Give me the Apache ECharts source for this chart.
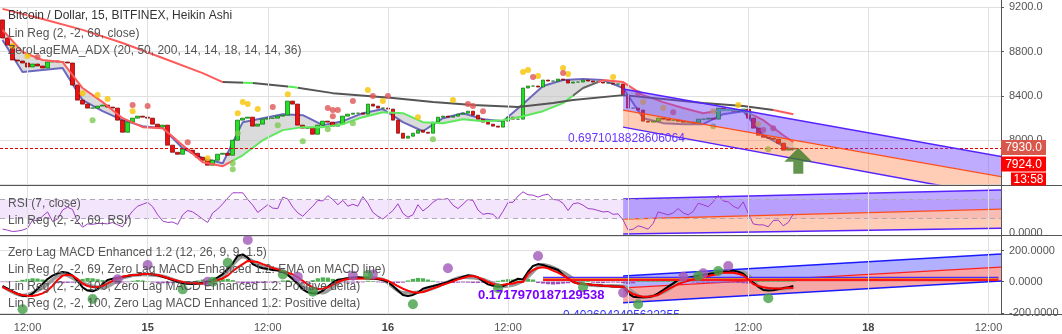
<!DOCTYPE html>
<html><head><meta charset="utf-8">
<script src="https://cdn.jsdelivr.net/npm/echarts@6/dist/echarts.min.js"></script>
<style>html,body{margin:0;padding:0;background:#fff}#c{width:1062px;height:334px}</style>
</head><body><div id="c"></div><script>
// ---------- DATA ----------
const N_CATS = 200;               // 30-minute slots, slot 0 = 14th 09:30
const tickCats = [5, 29, 53, 77, 101, 125, 149, 173, 197];
const tickLabels = ['12:00', '15', '12:00', '16', '12:00', '17', '12:00', '18', '12:00'];
const boldTicks = ['15', '16', '17', '18'];

const firstOpen = 9086;
const closes = [8923,8860,8724,8715,8697,8661,8688,8670,8652,8706,
8715,8706,8706,8697,8498,8362,8326,8290,8290,8308,
8317,8299,8290,8181,8072,8163,8199,8217,8208,8199,
8145,8118,8136,7955,7891,7873,7919,7910,7882,7846,
7819,7774,7819,7873,7882,7864,8000,8181,8199,8208,
8127,8145,8190,8199,8199,8217,8226,8353,8326,8136,
8109,8109,8054,8136,8172,8163,8127,8145,8217,8235,
8244,8244,8235,8326,8308,8290,8290,8281,8181,8063,
8018,8036,8063,8090,8072,8063,8163,8208,8217,8208,
8217,8235,8244,8262,8226,8190,8163,8145,8127,8118,
8172,8208,8190,8190,8471,8489,8489,8480,8543,8534,
8534,8552,8543,8516,8525,8525,8543,8534,8525,8525,
8516,8516,8507,8507,8407,8290,8290,8272,8172,8163,
8172,8199,8190,8181,8181,8172,8163,8163,8154,8190,
8190,8199,8190,8290,8281,8272,8262,8262,8281,8199,
8109,8045,8027,8018,8009,7973,7910,7919,7928];

// ZeroLag EMA lines sampled on shared slots
const emaCats = [0,4,8,12,16,20,24,28,32,36,40,44,48,52,56,60,64,68,72,76,80,84,88,92,96,100,104,108,112,116,120,124,128,132,136,140,144,148,152,156,158];
const emaUpper = [8996,8796,8724,8706,8471,8344,8199,8118,8109,7955,7801,7765,7864,8000,8091,8118,8118,8145,8208,8253,8244,8163,8154,8190,8172,8181,8217,8262,8335,8471,8543,8525,8407,8344,8290,8244,8272,8272,8181,8045,7982];
const emaFast = [8905,8615,8634,8652,8362,8262,8181,8127,8109,7928,7837,7792,8163,8199,8235,8226,8136,8172,8244,8281,8163,8081,8199,8244,8190,8172,8326,8489,8543,8552,8543,8471,8199,8154,8145,8145,8235,8262,8045,7946,7910];
const ema200Cats = [0,8,16,24,32,40,44,50,58,66,78,86,94,103,110,114,124,132,140,148,154,158];
const ema200 = [9186,9095,8996,8878,8742,8606,8525,8516,8480,8425,8380,8344,8317,8299,8335,8362,8407,8371,8335,8308,8272,8235];

const dotsYellow = [[2,8851],[5,8760],[16,8425],[19,8407],[21,8371],[26,8262],[41,7837],[47,8244],[48,8344],[49,8326],[51,8281],[57,8416],[73,8453],[76,8353],[83,8208],[90,8362],[104,8615],[105,8634],[107,8579],[112,8652],[113,8597],[122,8570],[128,8344],[132,8290],[142,8262],[147,8317],[151,8145]];
const dotsRed = [[7,8751],[26,8317],[29,8308],[37,7982],[54,8299],[65,8290],[66,8272],[67,8272],[66,8217],[70,8353],[74,8398],[77,8398],[93,8326],[94,8308],[96,8262],[106,8570],[112,8606],[127,8425],[134,8253],[152,8091],[154,8109]];
const dotsGreen = [[18,8181],[46,7792],[46,7738],[47,8063],[55,8136],[60,7991],[65,8100],[70,8154],[86,8009],[142,8127],[153,7919]];

const lastPrice = 7930;
const arrowPoint = [[159, 7814]];

// Linear regression channels: [start slot, end slot]
const chanCats = [124, 200];
const priceChanUpper = [8462, 7849];
const priceChanMid = [8272, 7668];
const priceChanLower = [8118, 7486];
const rsiChanUpper = [71, 90];
const rsiChanMid = [29, 50];
const rsiChanLower = [-2, 10];
const macdChanUpper = [37, 178];
const macdChanMid = [-40, 94];
const macdChanLower = [-135, 6];

const rsi = [8,6,3,4,6,10,27,26,35,44,24,29,48,54,49,24,12,19,18,20,
20,19,22,17,13,32,46,56,60,64,55,38,25,22,23,18,38,47,44,37,
29,22,42,50,61,73,84,84,84,70,58,43,51,59,52,51,75,71,54,42,
35,46,56,68,67,78,70,59,68,56,60,56,76,62,43,35,29,38,47,61,
41,33,38,59,46,54,64,71,70,72,58,51,60,70,68,48,39,41,39,29,
45,64,64,77,86,80,79,75,79,81,70,69,62,47,61,63,58,51,50,47,
44,45,39,40,27,6,8,15,12,8,20,44,41,38,42,51,42,38,45,62,
59,55,65,79,67,65,56,51,65,41,19,17,17,13,26,27,15,22,40];
const rsiUpperLevel = 70, rsiLowerLevel = 30;

const macdLine = [-28,-45,-62,-77,-90,-94,-77,-45,-15,17,39,54,62,58,39,6,-36,-57,-62,-49,
-15,11,19,26,32,37,43,45,49,49,47,41,32,22,11,0,-11,-13,-15,-11,
-6,2,11,28,49,83,118,167,175,154,113,96,86,81,75,71,62,43,17,-15,
-49,-68,-75,-75,-57,-32,-6,13,17,22,26,28,24,22,19,17,11,-2,-28,-57,
-85,-92,-85,-70,-45,-36,-28,-19,-11,-2,11,19,32,41,39,28,4,-17,-26,-32,
-28,-13,4,19,15,64,101,113,107,96,86,75,45,19,-2,-11,-15,-17,-21,-23,
-26,-28,-30,-30,-32,-75,-96,-100,-100,-98,-92,-75,-53,-32,-11,11,19,26,32,39,
45,49,54,60,64,69,71,64,51,21,-6,-32,-53,-57,-55,-49,-41,-36,-28];
const macdEma = [-34,-49,-64,-79,-85,-90,-92,-85,-75,-57,-26,11,39,45,39,17,-11,-28,-34,-34,
-28,-11,6,21,32,39,43,45,49,49,47,43,34,24,15,6,-2,-6,-9,-11,
-11,-6,0,11,21,39,69,92,113,133,130,126,113,101,88,79,66,58,47,28,
6,-19,-36,-47,-45,-36,-19,-2,11,17,19,21,21,21,21,21,15,6,-11,-28,
-45,-57,-68,-70,-66,-55,-43,-32,-19,-9,2,15,24,34,36,28,15,-2,-15,-21,
-19,-15,-11,-2,-2,49,75,88,92,86,71,58,41,21,-2,-11,-15,-17,-21,-23,
-26,-28,-30,-32,-32,-60,-79,-90,-96,-96,-92,-85,-66,-47,-32,-15,-4,6,15,24,
28,36,43,49,58,58,58,51,41,15,-15,-28,-36,-41,-43,-43,-43,-38,-41];
const macdGrayCats = [0,4,8,12,16,20,24,28,32,36,40,44,48,52,56,60,64,68,72,76,80,84,88,92,96,100,104,108,112,116,120,124,128,132,136,140,144,148,152,156,158];
const macdGray = [-30,-88,-40,50,-10,-40,25,47,36,-5,-10,35,160,95,70,-30,-70,12,26,14,-70,-62,-16,28,15,-30,5,108,60,-14,-25,-31,-100,-68,10,42,62,60,-45,-45,-35];
const macdHist = [-3,-3,-2,5,12,18,22,20,14,6,-4,-8,-10,-8,-6,8,18,24,22,16,
10,4,-4,-6,-5,-3,6,10,8,3,-5,-8,-10,-10,-9,-9,-8,-6,-4,8,
14,12,8,10,16,18,10,-6,-10,-12,-10,-8,-8,-6,-6,-4,8,10,4,-6,
-8,-6,10,22,28,26,18,8,-4,-5,-6,-6,-4,6,4,-4,-6,-8,-10,-8,
-6,8,18,24,22,14,6,-4,-6,-8,-8,-6,-5,-6,-8,-8,-6,-4,-3,6,
12,16,14,8,12,18,14,-8,-12,-16,-18,-16,-12,-10,6,10,12,6,-6,-8,
-8,-6,-5,-6,-10,-14,-10,4,6,6,8,8,10,10,12,14,12,8,-4,-6,
-6,-8,-8,-8,-8,-6,-6,-8,-10,-12,-10,6,10,14,16,12,8,6,4];
const macdFlatStart = 108;
const macdFlatVals = [26, 17, 11];
const macdDotsPurple = [[23,15],[29,107],[41,0],[49,267],[59,32],[70,38],[74,47],[89,86],[107,165],[124,-70],[136,32],[140,54],[145,101]];
const macdDotsGreen = [[4,-177],[18,-111],[36,-49],[42,0],[45,122],[56,47],[62,-64],[73,43],[82,-145],[99,-42],[116,-36],[127,-145],[139,37],[143,69],[153,-106]];

const legendMain = ['Bitcoin / Dollar, 15, BITFINEX, Heikin Ashi', 'Lin Reg (2, -2, 69, close)', 'ZeroLagEMA_ADX (20, 50, 200, 14, 14, 18, 14, 14, 36)'];
const legendRsi = ['RSI (7, close)', 'Lin Reg (2, -2, 69, RSI)'];
const legendMacd = ['Zero Lag MACD Enhanced 1.2 (12, 26, 9, 9, 1.5)', 'Lin Reg (2, -2, 69, Zero Lag MACD Enhanced 1.2: EMA on MACD line)', 'Lin Reg (2, -2, 100, Zero Lag MACD Enhanced 1.2: Positive delta)', 'Lin Reg (2, -2, 100, Zero Lag MACD Enhanced 1.2: Positive delta)'];
const corrPrice = '0.6971018828606064', corrMacd = '0.1717970187129538', corrMacd2 = '0.4026042495622355';
const corrPricePos = [113, 8018], corrMacdPos = [95, -85], corrMacd2Pos = [112, -220];
const priceTags = [['7930.0', '#d8564a'], ['7924.0', '#ff0000'], ['13:58', '#ff0000']];

// ---------- CHART ----------
const FONT = '"Liberation Sans", Arial, sans-serif';
const GRID_COL = '#e0e0e0';
const chart = echarts.init(document.getElementById('c'));
const cats = Array.from({length: N_CATS}, (_, i) => String(i));
const pairs = (xs, ys) => xs.map((x, k) => [x, ys[k]]);
const candles = closes.map((c, i) => { const o = i ? closes[i - 1] : firstOpen; return [o, c, Math.min(o, c), Math.max(o, c)]; });
const vgrid = (color) => ({silent: true, symbol: 'none', label: {show: false}, lineStyle: {color: color, width: 1, type: 'solid'}, data: tickCats.map(c => ({xAxis: c}))});

function channel(xi, yi, up, mid, low, fillUp, fillLow, edgeCol, midCol, z) {
  return {type: 'custom', xAxisIndex: xi, yAxisIndex: yi, clip: true, silent: true, z: z,
    data: [[chanCats[0], mid[0]]],
    renderItem: function (params, api) {
      const u0 = api.coord([chanCats[0], up[0]]), u1 = api.coord([chanCats[1], up[1]]);
      const m0 = api.coord([chanCats[0], mid[0]]), m1 = api.coord([chanCats[1], mid[1]]);
      const l0 = api.coord([chanCats[0], low[0]]), l1 = api.coord([chanCats[1], low[1]]);
      return {type: 'group', children: [
        {type: 'polygon', shape: {points: [u0, u1, m1, m0]}, style: {fill: fillUp}},
        {type: 'polygon', shape: {points: [m0, m1, l1, l0]}, style: {fill: fillLow}},
        {type: 'polyline', shape: {points: [u0, u1]}, style: {stroke: edgeCol, lineWidth: 1.5, fill: null}},
        {type: 'polyline', shape: {points: [l0, l1]}, style: {stroke: edgeCol, lineWidth: 1.5, fill: null}},
        {type: 'polyline', shape: {points: [m0, m1]}, style: {stroke: midCol, lineWidth: 1.2, fill: null}}
      ]};
    }};
}
function textSeries(xi, yi, pos, text, color, font, z) {
  return {type: 'custom', xAxisIndex: xi, yAxisIndex: yi, clip: true, silent: true, z: z, data: [pos],
    renderItem: function (params, api) {
      const p = api.coord(pos);
      return {type: 'text', x: p[0], y: p[1], style: {text: text, fill: color, font: font, align: 'left', verticalAlign: 'middle', textAlign: 'left', textVerticalAlign: 'middle'}};
    }};
}

const series = [];
const visualMaps = [];
// ----- main pane -----
series.push({type: 'line', xAxisIndex: 0, yAxisIndex: 0, data: [], silent: true, z: 0, markLine: vgrid(GRID_COL)});
series.push({type: 'custom', xAxisIndex: 0, yAxisIndex: 0, clip: true, silent: true, z: 1, data: [[0, emaUpper[0]]],
  renderItem: function (params, api) {
    const pts = [];
    emaCats.forEach((c, k) => pts.push(api.coord([c, emaUpper[k]])));
    for (let k = emaCats.length - 1; k >= 0; k--) pts.push(api.coord([emaCats[k], emaFast[k]]));
    return {type: 'polygon', shape: {points: pts}, style: {fill: 'rgba(190,190,190,0.55)'}};
  }});
series.push({type: 'line', xAxisIndex: 0, yAxisIndex: 0, data: pairs(emaCats, emaFast), symbol: 'none', z: 2, silent: true,
  lineStyle: {color: '#6c68be', width: 2}});
series.push({type: 'candlestick', xAxisIndex: 0, yAxisIndex: 0, data: candles, barWidth: 4.2, z: 3, silent: true,
  itemStyle: {color: '#22e022', color0: '#f01010', borderColor: '#0d6a0d', borderColor0: '#7a0000', borderWidth: 0.7},
  markLine: {silent: true, symbol: 'none', label: {show: false}, lineStyle: {color: '#e00000', type: [3, 2], width: 1}, data: [{yAxis: lastPrice}]}});
visualMaps.push({type: 'piecewise', show: false, dimension: 0, seriesIndex: series.length,
  pieces: [{lt: 46, color: '#ff5a5a'}, {gte: 46, lt: 114, color: '#5ee85e'}, {gte: 114, lt: 119, color: '#666666'}, {gte: 119, lt: 142, color: '#ff5a5a'}, {gte: 142, lt: 150, color: '#4cc38a'}, {gte: 150, color: '#ff5a5a'}]});
series.push({type: 'line', xAxisIndex: 0, yAxisIndex: 0, data: pairs(emaCats, emaUpper), symbol: 'none', z: 4, silent: true, lineStyle: {width: 2}});
visualMaps.push({type: 'piecewise', show: false, dimension: 0, seriesIndex: series.length,
  pieces: [{lt: 44, color: '#ff5a5a'}, {gte: 44, lt: 48, color: '#555555'}, {gte: 48, lt: 50, color: '#55ee55'}, {gte: 50, lt: 57, color: '#555555'}, {gte: 57, lt: 59, color: '#55ee55'}, {gte: 59, lt: 154, color: '#555555'}, {gte: 154, color: '#ff5a5a'}]});
series.push({type: 'line', xAxisIndex: 0, yAxisIndex: 0, data: pairs(ema200Cats, ema200), symbol: 'none', z: 4, silent: true, lineStyle: {width: 2}});
[[dotsYellow, '#f6c400'], [dotsRed, '#e05555'], [dotsGreen, '#7acb52']].forEach(([d, col]) => {
  series.push({type: 'scatter', xAxisIndex: 0, yAxisIndex: 0, data: d, symbolSize: 6, z: 5, silent: true, itemStyle: {color: col}});
});
series.push(channel(0, 0, priceChanUpper, priceChanMid, priceChanLower, 'rgba(112,72,255,0.45)', 'rgba(255,122,60,0.38)', '#5522ff', '#ff4d1a', 6));
series.push({type: 'scatter', xAxisIndex: 0, yAxisIndex: 0, data: arrowPoint, z: 7, silent: true,
  symbol: 'path://M14 0 L28 14 L19 14 L19 26 L9 26 L9 14 L0 14 Z', symbolSize: [28, 26], itemStyle: {color: '#3d7b22'}});
series.push(textSeries(0, 0, corrPricePos, corrPrice, '#6a38ff', '12px ' + FONT, 8));
// ----- RSI pane -----
series.push({type: 'line', xAxisIndex: 1, yAxisIndex: 1, data: rsi, symbol: 'none', z: 3, silent: true,
  lineStyle: {color: '#a03cc8', width: 1},
  markArea: {silent: true, itemStyle: {color: '#f3e6fc'}, data: [[{yAxis: rsiLowerLevel}, {yAxis: rsiUpperLevel}]]},
  markLine: {silent: true, symbol: 'none', label: {show: false}, data: [
    {yAxis: rsiUpperLevel, lineStyle: {color: '#b0a8b8', type: [5, 4], width: 1}},
    {yAxis: rsiLowerLevel, lineStyle: {color: '#b0a8b8', type: [5, 4], width: 1}}
  ].concat(tickCats.map(c => ({xAxis: c, lineStyle: {color: GRID_COL, type: 'solid', width: 1}})))}});
series.push(channel(1, 1, rsiChanUpper, rsiChanMid, rsiChanLower, 'rgba(112,72,255,0.45)', 'rgba(255,122,60,0.38)', '#5522ff', '#ff4d1a', 2));
// ----- MACD pane -----
series.push({type: 'line', xAxisIndex: 2, yAxisIndex: 2, data: [], silent: true, z: 0, markLine: vgrid(GRID_COL)});
series.push(channel(2, 2, macdChanUpper, macdChanMid, macdChanLower, 'rgba(70,70,255,0.42)', 'rgba(240,60,60,0.45)', '#1a1aff', '#ff2020', 1));
series.push({type: 'bar', xAxisIndex: 2, yAxisIndex: 2, z: 2, silent: true, barCategoryGap: '15%',
  data: macdHist.map(v => ({value: v, itemStyle: {color: v >= 0 ? '#4caf50' : '#9c4db8'}}))});
series.push({type: 'line', xAxisIndex: 2, yAxisIndex: 2, data: pairs(macdGrayCats, macdGray), symbol: 'none', z: 3, silent: true, smooth: 0.3,
  lineStyle: {color: '#9a9a9a', width: 3.5}});
series.push({type: 'line', xAxisIndex: 2, yAxisIndex: 2, data: macdLine, symbol: 'none', z: 4, silent: true, lineStyle: {color: '#000000', width: 2}});
series.push({type: 'line', xAxisIndex: 2, yAxisIndex: 2, data: macdEma, symbol: 'none', z: 5, silent: true, lineStyle: {color: '#ff0000', width: 2}});
[['#4b2bff', 2], ['#ff9800', 1.5], ['#ff1a1a', 2]].forEach(([col, w], k) => {
  series.push({type: 'line', xAxisIndex: 2, yAxisIndex: 2, data: [[macdFlatStart, macdFlatVals[k]], [N_CATS - 1, macdFlatVals[k]]], symbol: 'none', z: 4, silent: true, lineStyle: {color: col, width: w}});
});
series.push({type: 'scatter', xAxisIndex: 2, yAxisIndex: 2, data: macdDotsPurple, symbolSize: 10, z: 6, silent: true, itemStyle: {color: '#a05ab8'}});
series.push({type: 'scatter', xAxisIndex: 2, yAxisIndex: 2, data: macdDotsGreen, symbolSize: 10, z: 6, silent: true, itemStyle: {color: '#45a049'}});
series.push(textSeries(2, 2, corrMacdPos, corrMacd, '#7a00ff', 'bold 13px ' + FONT, 8));
series.push(textSeries(2, 2, corrMacd2Pos, corrMacd2, '#3535ff', '12px ' + FONT, 8));

const xBase = {type: 'category', data: cats, boundaryGap: true, axisLine: {show: false}, axisTick: {show: false}, axisLabel: {show: false}, splitLine: {show: false}};
const yLab = {color: '#555', fontSize: 11, fontFamily: FONT, margin: 8};
const graphics = [];
const sep = (x1, y1, x2, y2) => graphics.push({type: 'line', shape: {x1, y1, x2, y2}, style: {stroke: '#555', lineWidth: 1}, z: 50});
sep(0, 185.5, 1062, 185.5); sep(0, 235.5, 1062, 235.5); sep(0, 314.5, 1062, 314.5); sep(1001.5, 0, 1001.5, 314.5);
const txt = (t, x, y, col, font) => graphics.push({type: 'text', x: x, y: y, z: 60,
  style: {text: t, fill: col, font: font, align: 'left', verticalAlign: 'middle', textAlign: 'left', textVerticalAlign: 'middle'}});
legendMain.forEach((t, k) => txt(t, 8, 16 + k * 17.5, k === 0 ? '#333' : '#555', '12px ' + FONT));
legendRsi.forEach((t, k) => txt(t, 8, 204 + k * 17, '#555', '12px ' + FONT));
legendMacd.forEach((t, k) => txt(t, 8, 253 + k * 17, '#555', '12px ' + FONT));
const tagBoxes = [[1001, 140, 45, 15], [1001, 156.5, 45, 15], [1011, 172.5, 35, 13]];
priceTags.forEach(([t, col], k) => {
  const b = tagBoxes[k];
  graphics.push({type: 'rect', shape: {x: b[0], y: b[1], width: b[2], height: b[3]}, style: {fill: col}, z: 70});
  graphics.push({type: 'text', x: b[0] + b[2] / 2, y: b[1] + b[3] / 2 + 0.5, z: 71,
    style: {text: t, fill: '#fff', font: '12px ' + FONT, align: 'center', verticalAlign: 'middle', textAlign: 'center', textVerticalAlign: 'middle'}});
});

chart.setOption({
  animation: false,
  backgroundColor: '#ffffff',
  grid: [
    {left: 0, width: 1001, top: 7.3, height: 177.2},
    {left: 0, width: 1001, top: 186, height: 49},
    {left: 0, width: 1001, top: 236, height: 78}
  ],
  xAxis: [
    Object.assign({}, xBase, {gridIndex: 0}),
    Object.assign({}, xBase, {gridIndex: 1}),
    Object.assign({}, xBase, {gridIndex: 2, axisLabel: {show: true, color: '#555', fontSize: 11, fontFamily: FONT, margin: 8,
      interval: (i) => tickCats.includes(i),
      formatter: (v, i) => { const k = tickCats.indexOf(i); if (k < 0) return ''; const t = tickLabels[k]; return boldTicks.includes(t) ? '{b|' + t + '}' : t; },
      rich: {b: {fontWeight: 'bold', color: '#444', fontSize: 11, fontFamily: FONT}}}})
  ],
  yAxis: [
    {gridIndex: 0, position: 'right', min: 7600, max: 9200, interval: 400, axisLine: {show: false},
      axisTick: {show: true, length: 3, lineStyle: {color: '#555'}}, splitLine: {lineStyle: {color: GRID_COL}},
      axisLabel: Object.assign({}, yLab, {showMinLabel: false, formatter: v => v.toFixed(1)})},
    {gridIndex: 1, position: 'right', min: -4.2, max: 98.2, axisLine: {show: false}, axisTick: {show: false}, splitLine: {show: false},
      axisLabel: Object.assign({}, yLab, {showMinLabel: false, showMaxLabel: false, formatter: v => (v === 0 ? '0.0000' : '')})},
    {gridIndex: 2, position: 'right', min: -207, max: 293, splitNumber: 3, axisLine: {show: false},
      axisTick: {show: true, length: 3, lineStyle: {color: '#555'}}, splitLine: {lineStyle: {color: GRID_COL}},
      axisLabel: Object.assign({}, yLab, {showMinLabel: false, showMaxLabel: false, formatter: v => v.toFixed(4)})}
  ],
  visualMap: visualMaps,
  series: series,
  graphic: graphics
});
</script></body></html>
